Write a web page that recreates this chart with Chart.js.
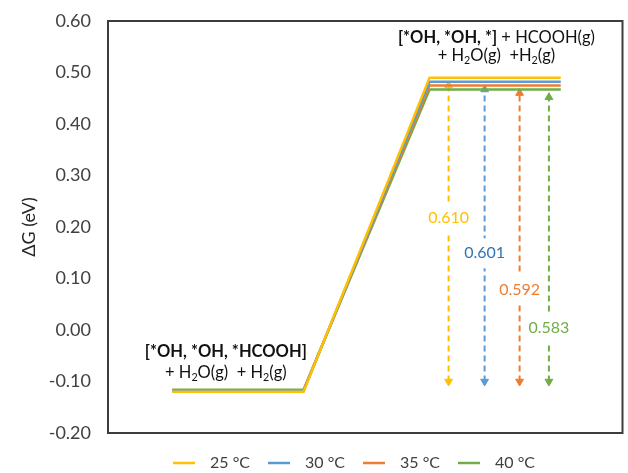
<!DOCTYPE html>
<html>
<head>
<meta charset="utf-8">
<script src="https://cdn.jsdelivr.net/npm/chart.js@4/dist/chart.umd.min.js"></script>
<style>
  html, body { margin: 0; padding: 0; background: #fff; }
  #wrap { width: 628px; height: 473px; }
</style>
</head>
<body>
<div id="wrap"><canvas id="c"></canvas></div>
<script>
// Series: one free-energy profile per temperature
const SERIES = ['25 °C', '30 °C', '35 °C', '40 °C'];
const COLORS = ['#FFC000', '#5B9BD5', '#ED7D31', '#70AD47'];
const LABEL_COLORS = ['#FFC000', '#2E75B6', '#ED7D31', '#70AD47'];

// Reaction coordinate: start / end of the two plateaus
const STEP_X = [1.25, 3.8, 6.25, 8.8];
const G_INITIAL = [-0.120, -0.119, -0.117, -0.116];
const G_FINAL = [0.490, 0.482, 0.475, 0.467];

// Double arrows showing the energy difference
const ARROW_X = [6.62, 7.32, 8.0, 8.57];
const ARROW_LOW = -0.10;
const DELTA_TEXT = ['0.610', '0.601', '0.592', '0.583'];
const DELTA_Y = [0.217, 0.149, 0.078, 0.004];

const Y_MIN = -0.2, Y_MAX = 0.6, Y_STEP = 0.1;
const FONT = 'Lato';

const levelSets = SERIES.map((name, i) => ({
    label: name,
    data: [
        {x: STEP_X[0], y: G_INITIAL[i]},
        {x: STEP_X[1], y: G_INITIAL[i]},
        {x: STEP_X[2], y: G_FINAL[i]},
        {x: STEP_X[3], y: G_FINAL[i]},
    ],
    borderColor: COLORS[i],
    backgroundColor: COLORS[i],
    borderWidth: 2.5,
    pointRadius: 0,
    tension: 0,
}));

const arrowSets = SERIES.map((name, i) => ({
    label: 'arrow ' + name,
    data: [
        {x: ARROW_X[i], y: ARROW_LOW},
        {x: ARROW_X[i], y: G_FINAL[i] - 0.015},
    ],
    borderColor: COLORS[i],
    backgroundColor: COLORS[i],
    borderWidth: 2,
    borderDash: [6, 4],
    pointStyle: 'triangle',
    pointRadius: 4.5,
    pointRotation: [180, 0],
    pointBorderWidth: 1,
}));

function drawRuns(ctx, runs, cx, cy, size) {
    const fontFor = r => `${r.bold ? 'bold ' : ''}${r.sub ? size * 0.65 : size}px ${FONT}`;
    let total = 0;
    runs.forEach(r => {
        ctx.font = fontFor(r);
        r.w = ctx.measureText(r.t).width;
        total += r.w;
    });
    let x = cx - total / 2;
    ctx.textAlign = 'left';
    ctx.textBaseline = 'middle';
    runs.forEach(r => {
        ctx.font = fontFor(r);
        ctx.fillText(r.t, x, cy + (r.sub ? size * 0.3 : 0));
        x += r.w;
    });
}

const annotations = {
    id: 'annotations',
    afterDatasetsDraw(chart) {
        const {ctx, scales: {x, y}} = chart;
        ctx.save();
        // delta labels on white boxes
        ctx.font = `16px ${FONT}`;
        DELTA_TEXT.forEach((t, i) => {
            const px = x.getPixelForValue(ARROW_X[i]);
            const py = y.getPixelForValue(DELTA_Y[i]);
            const w = ctx.measureText(t).width;
            ctx.fillStyle = '#fff';
            ctx.fillRect(px - w / 2 - 2, py - 15, w + 4, 30);
            ctx.fillStyle = LABEL_COLORS[i];
            ctx.textAlign = 'center';
            ctx.textBaseline = 'middle';
            ctx.fillText(t, px, py);
        });
        // state labels
        ctx.fillStyle = '#111';
        drawRuns(ctx, [{t: '[*OH, *OH, *]', bold: true}, {t: ' + HCOOH(g)'}],
            x.getPixelForValue(7.55), y.getPixelForValue(0.567), 16.5);
        drawRuns(ctx, [{t: '+ H'}, {t: '2', sub: true}, {t: 'O(g)  +H'}, {t: '2', sub: true}, {t: '(g)'}],
            x.getPixelForValue(7.55), y.getPixelForValue(0.532), 16.5);
        drawRuns(ctx, [{t: '[*OH, *OH, *HCOOH]', bold: true}],
            x.getPixelForValue(2.29), y.getPixelForValue(-0.043), 16.5);
        drawRuns(ctx, [{t: '+ H'}, {t: '2', sub: true}, {t: 'O(g)  + H'}, {t: '2', sub: true}, {t: '(g)'}],
            x.getPixelForValue(2.29), y.getPixelForValue(-0.082), 16.5);
        ctx.restore();
    },
    afterDraw(chart) {
        const {ctx, chartArea: a} = chart;
        ctx.save();
        // plot frame
        ctx.strokeStyle = '#3c3c3c';
        ctx.lineWidth = 2;
        ctx.strokeRect(a.left, a.top, a.right - a.left, a.bottom - a.top);

        // legend row below the plot
        const lineW = 22, gap = 15, sep = 18;
        ctx.font = `16px ${FONT}`;
        const widths = SERIES.map(s => lineW + gap + ctx.measureText(s).width);
        const total = widths.reduce((a, b) => a + b, 0) + sep * (SERIES.length - 1);
        let lx = 354 - total / 2;
        const ly = a.bottom + 30;
        ctx.textAlign = 'left';
        ctx.textBaseline = 'middle';
        SERIES.forEach((s, i) => {
            ctx.strokeStyle = COLORS[i];
            ctx.lineWidth = 2.5;
            ctx.beginPath();
            ctx.moveTo(lx, ly);
            ctx.lineTo(lx + lineW, ly);
            ctx.stroke();
            ctx.fillStyle = '#404040';
            ctx.fillText(s, lx + lineW + gap, ly);
            lx += widths[i] + sep;
        });
        ctx.restore();
    },
};

new Chart(document.getElementById('c'), {
    type: 'line',
    data: {datasets: [...levelSets, ...arrowSets]},
    plugins: [annotations],
    options: {
        responsive: true,
        maintainAspectRatio: false,
        animation: false,
        layout: {padding: {top: 21, right: 1, left: 0, bottom: 0}},
        plugins: {
            tooltip: {enabled: false},
            legend: {display: false},
        },
        scales: {
            x: {
                type: 'linear',
                min: 0,
                max: 10,
                ticks: {display: false},
                grid: {display: false, drawTicks: false},
                border: {display: false},
                afterFit: s => {
                    s.height = 40;
                    s.paddingLeft = 0;
                    s.paddingRight = 0;
                },
            },
            y: {
                min: Y_MIN,
                max: Y_MAX,
                ticks: {
                    stepSize: Y_STEP,
                    padding: 17,
                    color: '#404040',
                    font: {family: FONT, size: 18},
                    callback: v => v.toFixed(2),
                },
                grid: {display: false, drawTicks: false},
                border: {display: false},
                title: {
                    display: true,
                    text: 'ΔG (eV)',
                    color: '#262626',
                    font: {family: FONT, size: 18},
                    padding: {top: 18, bottom: 0},
                },
                afterFit: s => {
                    s.width = 108;
                    s.paddingTop = 0;
                    s.paddingBottom = 0;
                },
            },
        },
    },
});
</script>
</body>
</html>
